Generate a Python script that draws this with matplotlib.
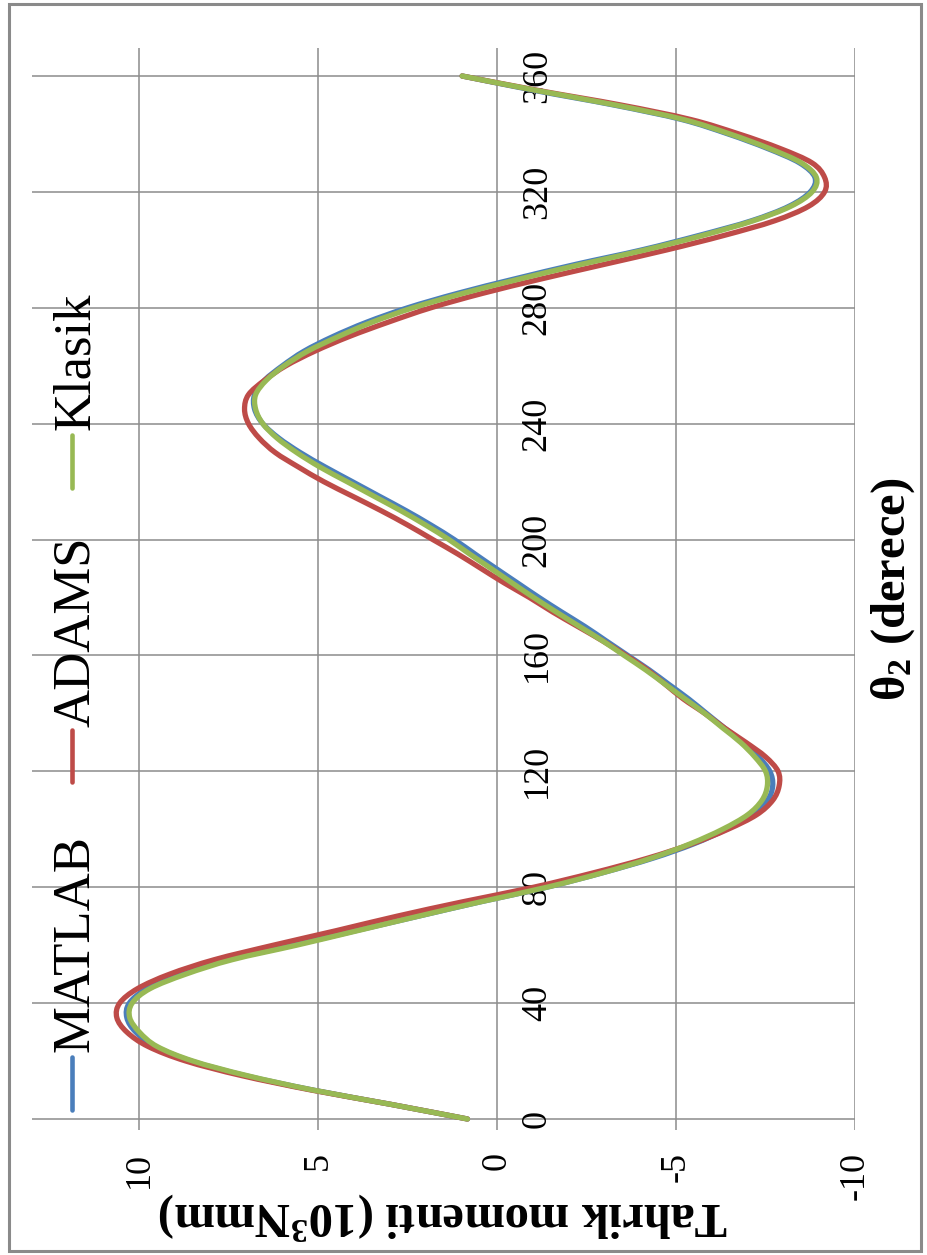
import matplotlib
matplotlib.use("Agg")
import matplotlib.pyplot as plt
from matplotlib.patches import Rectangle, PathPatch
from matplotlib.lines import Line2D
from matplotlib.path import Path

plt.rcParams['font.family'] = ['Liberation Serif', 'DejaVu Serif']
plt.rcParams['mathtext.fontset'] = 'custom'
plt.rcParams['mathtext.rm'] = 'Liberation Serif:bold'
plt.rcParams['mathtext.bf'] = 'Liberation Serif:bold'
plt.rcParams['mathtext.it'] = 'Liberation Serif:bold:italic'
plt.rcParams['axes.unicode_minus'] = False

# crank angle theta_2 (degrees)
theta = [0, 5, 10, 15, 20, 25, 30, 35, 40, 45, 50, 55, 60, 65, 70, 75, 80, 85,
         90, 95, 100, 105, 110, 115, 120, 125, 130, 135, 140, 145, 150, 155,
         160, 165, 170, 175, 180, 185, 190, 195, 200, 205, 210, 215, 220, 225,
         230, 235, 240, 245, 250, 255, 260, 265, 270, 275, 280, 285, 290, 295,
         300, 305, 310, 315, 320, 325, 330, 335, 340, 345, 350, 355, 360]

# driving torque (10^3 Nmm)
matlab = [0.83, 2.95, 5.15, 7.05, 8.55, 9.55, 10.1, 10.35, 10.28, 9.78, 8.8,
          7.5, 5.7, 3.95, 2.2, 0.45, -1.39, -2.95, -4.35, -5.5, -6.4, -7.1,
          -7.55, -7.7, -7.62, -7.3, -6.85, -6.35, -5.85, -5.35, -4.8, -4.25,
          -3.65, -3.05, -2.45, -1.8, -1.17, -0.57, 0.03, 0.62, 1.2, 1.85, 2.55,
          3.3, 4.05, 4.8, 5.5, 6.1, 6.55, 6.78, 6.78, 6.5, 6.0, 5.4, 4.6,
          3.65, 2.5, 1.1, -0.5, -2.2, -4.05, -5.65, -7.1, -8.15, -8.75, -8.88,
          -8.45, -7.55, -6.45, -5.15, -3.25, -1.05, 0.98]

adams = [0.83, 2.95, 5.2, 7.15, 8.7, 9.75, 10.35, 10.63, 10.55, 10.05, 9.15,
         7.9, 6.25, 4.5, 2.8, 0.95, -1.02, -2.7, -4.2, -5.45, -6.45, -7.25,
         -7.7, -7.88, -7.85, -7.5, -6.95, -6.35, -5.8, -5.2, -4.7, -4.2, -3.6,
         -2.95, -2.25, -1.55, -0.9, -0.2, 0.45, 1.1, 1.8, 2.5, 3.25, 4.05, 4.85,
         5.55, 6.2, 6.65, 6.95, 7.06, 6.95, 6.5, 5.9, 5.1, 4.15, 3.05, 1.85,
         0.4, -1.25, -3.0, -4.75, -6.35, -7.75, -8.7, -9.15, -9.15, -8.8,
         -7.9, -6.75, -5.4, -3.45, -1.15, 0.98]

klasik = [0.83, 2.95, 5.15, 7.0, 8.5, 9.5, 10.0, 10.27, 10.2, 9.7, 8.7, 7.4,
          5.6, 3.9, 2.2, 0.45, -1.39, -2.95, -4.3, -5.4, -6.3, -7.0, -7.4,
          -7.55, -7.5, -7.2, -6.8, -6.3, -5.8, -5.25, -4.7, -4.15, -3.55, -2.95,
          -2.3, -1.65, -1.02, -0.42, 0.17, 0.77, 1.35, 2.0, 2.7, 3.45, 4.2, 4.95,
          5.6, 6.15, 6.55, 6.75, 6.75, 6.45, 5.95, 5.3, 4.45, 3.5, 2.35, 0.95,
          -0.65, -2.35, -4.15, -5.75, -7.15, -8.2, -8.8, -8.92, -8.5, -7.6,
          -6.5, -5.2, -3.3, -1.1, 0.98]

series_names = ['MATLAB', 'ADAMS', 'Klasik']
series_colors = ['#4A7EBB', '#BE4B48', '#98B954']

theta_ticks = [0, 40, 80, 120, 160, 200, 240, 280, 320, 360]
torque_ticks = [10, 5, 0, -5, -10]
torque_labels = ['10', '5', '0', '-5', '-10']


def smoothed_path(xs, ys):
    """Smoothed line through the points (Catmull-Rom style cubic Beziers)."""
    pts = list(zip(xs, ys))
    n = len(pts)
    verts = [pts[0]]
    codes = [Path.MOVETO]
    for i in range(n - 1):
        p0 = pts[i - 1] if i > 0 else pts[i]
        p1 = pts[i]
        p2 = pts[i + 1]
        p3 = pts[i + 2] if i + 2 < n else pts[i + 1]
        c1 = (p1[0] + (p2[0] - p0[0]) / 6.0, p1[1] + (p2[1] - p0[1]) / 6.0)
        c2 = (p2[0] - (p3[0] - p1[0]) / 6.0, p2[1] - (p3[1] - p1[1]) / 6.0)
        verts += [c1, c2, p2]
        codes += [Path.CURVE4] * 3
    return Path(verts, codes)


W, H = 927, 1255
fig = plt.figure(figsize=(W / 100, H / 100), dpi=100)
fig.patch.set_facecolor('white')

ax = fig.add_axes([32 / W, 125 / H, 823 / W, 1082 / H])
ax.set_facecolor('white')

for vals, col in zip([matlab, adams, klasik], series_colors):
    ax.add_patch(PathPatch(smoothed_path(vals, theta), fill=False,
                           edgecolor=col, lw=3.8, capstyle='round',
                           joinstyle='round', zorder=3))

ax.set_xlim(13.0, -10.0)
ax.set_ylim(-3.8, 369.66)
ax.set_xticks(torque_ticks)
ax.set_xticklabels(torque_labels)
ax.set_yticks(theta_ticks)
ax.grid(True, color='#8c8c8c', lw=1.1, zorder=0)
for s in ax.spines.values():
    s.set_visible(False)

# torque tick labels below the plot, turned a quarter turn
ax.tick_params(axis='x', length=0, pad=16, labelsize=26, labelrotation=90)

# angle tick labels run along the zero-torque line
ax.yaxis.tick_right()
ax.spines['right'].set_position(('data', 0))
ax.tick_params(axis='y', length=0, pad=17, labelsize=26, labelrotation=90)
for lab in ax.get_yticklabels():
    lab.set_verticalalignment('center')
    lab.set_horizontalalignment('left')

ax.set_xlabel(r'Tahrik momenti (10$^{\mathrm{3}}$Nmm)', fontsize=35,
              fontweight='bold', rotation=180, va='center', ha='center')
ax.xaxis.set_label_coords(0.5, -0.0795)

ax.yaxis.set_label_position('right')
ax.set_ylabel(r'θ$_{\mathrm{2}}$ (derece)', fontsize=35, fontweight='bold',
              rotation=90, va='center', ha='center')
ax.yaxis.set_label_coords(1.046, 0.5)

# legend entries, stacked along the left edge
legend_y = [(1110, 1057, 1052), (782, 730, 727), (488, 435, 430)]
for name, col, (y0, y1, yt) in zip(series_names, series_colors, legend_y):
    fig.add_artist(Line2D([72 / W, 72 / W], [1 - y0 / H, 1 - y1 / H],
                          color=col, lw=3.3, solid_capstyle='round'))
    fig.text(89 / W, 1 - yt / H, name, fontsize=38, rotation=90,
             rotation_mode='anchor', ha='left', va='baseline')

# chart-area border
fig.add_artist(Rectangle((9 / W, 1 - 1251 / H), 912 / W, 1247 / H,
                         transform=fig.transFigure, fill=False,
                         edgecolor='#8a8a8a', lw=2.2))

fig.savefig('out.png', dpi=100, facecolor='white')
